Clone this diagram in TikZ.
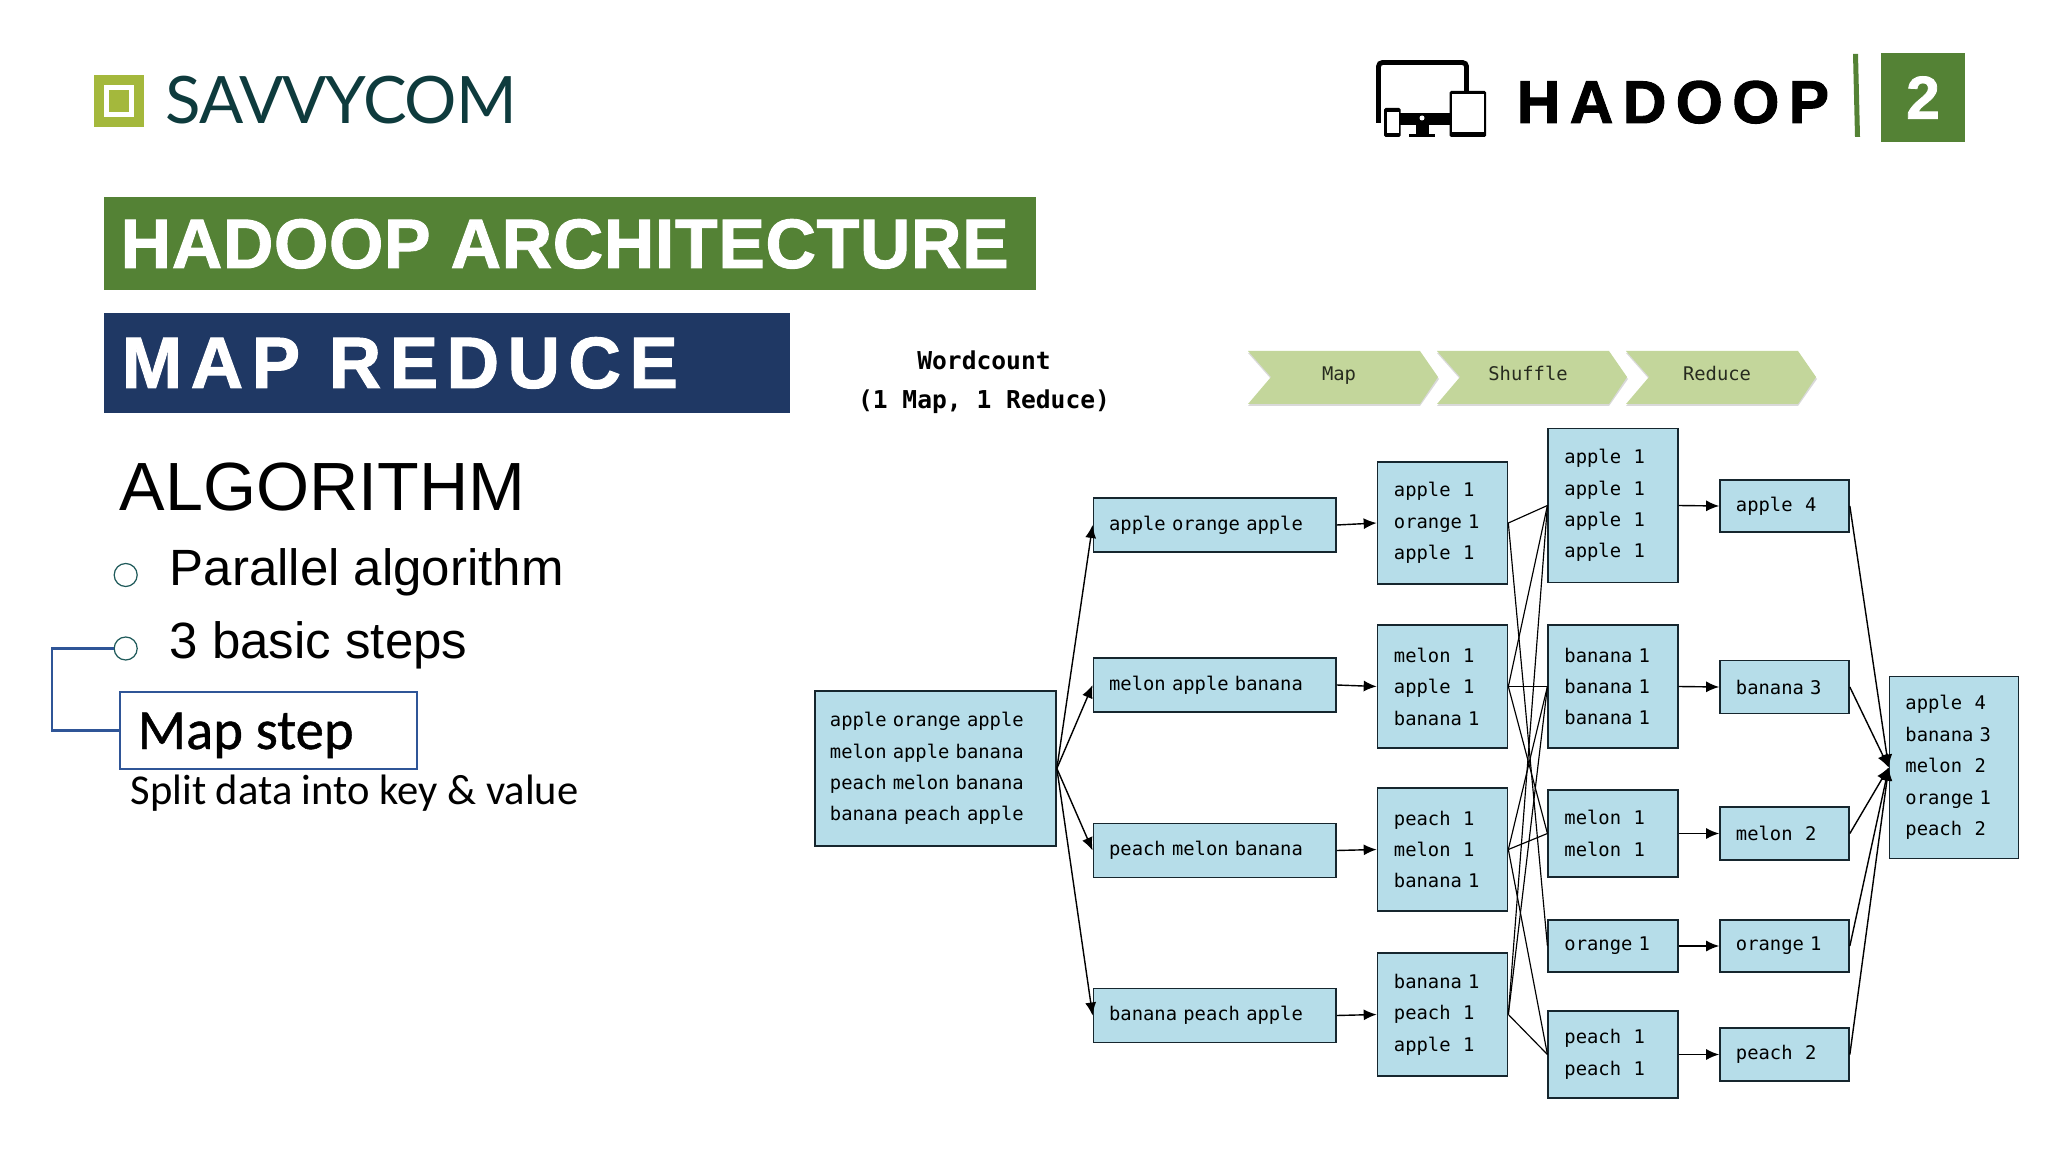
\documentclass[tikz,border=0pt]{standalone}
\usepackage{fontspec}
\usetikzlibrary{arrows.meta}
\setmainfont{Liberation Sans}
\newfontfamily\monofont{DejaVu Sans Mono}
\newfontfamily\monobold{DejaVu Sans Mono Bold}
\newfontfamily\calibrifont{Carlito}
\newfontfamily\logofont[LetterSpace=-1.5]{Lato}
\newfontfamily\heavyfont[FakeBold=1.6,LetterSpace=15.5]{Liberation Sans Bold}
\newfontfamily\titlefont[FakeBold=1.3,LetterSpace=0.8]{Liberation Sans Bold}
\newfontfamily\subtitlefont[FakeBold=1.3,LetterSpace=11.5]{Liberation Sans Bold}
\definecolor{hgreen}{HTML}{548235}
\definecolor{hnavy}{HTML}{1F3864}
\definecolor{logogreen}{HTML}{A4B83C}
\definecolor{logodark}{HTML}{0E3B3D}
\definecolor{boxblue}{HTML}{B6DDE9}
\definecolor{boxline}{HTML}{16262E}
\definecolor{stepgreen}{HTML}{C3D69B}
\definecolor{linkblue}{HTML}{2F5597}
\definecolor{bullet}{HTML}{1F5A5A}
\tikzset{
    box/.style={draw=boxline, fill=boxblue, line width=0.45pt, inner sep=0pt, align=left, text width=0.97cm, font=\monofont\fontsize{5.35}{8.95}\selectfont},
    wide/.style={box, text width=2.11cm},
    arrow/.style={-{Latex[length=1.3mm,width=1.1mm]}, line width=0.4pt, draw=black},
    link/.style={line width=0.33pt, draw=black},
    label/.style={inner sep=0pt, anchor=base west}
}
\begin{document}
\begin{tikzpicture}[x=0.01cm,y=-0.01cm]
    \useasboundingbox (0,0) rectangle (2048,1152);

    % logo
    \fill [logogreen] (94,75) rectangle (144,127);
    \fill [white] (104,85) rectangle (134,117);
    \fill [logogreen] (109,90) rectangle (129,112);
    \node [label, text=logodark, font=\logofont\fontsize{18.6}{20}\selectfont, name=logo] at (165,124) {SAVVYCOM};

    % hadoop 2
    \draw [line width=1.4pt, rounded corners=0.04cm] (1378.5,123) -- (1378.5,62.5) -- (1466.5,62.5) -- (1466.5,95);
    \fill [black] (1400,113) rectangle (1450,125);
    \fill [black] (1416,125) rectangle (1429,134);
    \fill [black] (1409,134) rectangle (1435,137);
    \fill [white] (1422,118) circle [radius=2.5];
    \fill [black, rounded corners=0.015cm] (1384,108) rectangle (1400.6,137);
    \fill [white] (1386.5,112) rectangle (1398.5,133);
    \fill [black, rounded corners=0.015cm] (1449.5,91) rectangle (1486,137);
    \fill [white] (1452,94) rectangle (1483.5,132);
    \node [label, font=\heavyfont\fontsize{17.2}{19}\selectfont, name=hadoop] at (1516,123) {HADOOP};
    \fill [hgreen] (1853,54) -- (1858,54) -- (1860,137) -- (1855,137) -- cycle;
    \node [fill=hgreen, text=white, inner sep=0pt, minimum width=0.84cm, minimum height=0.89cm, font=\titlefont\fontsize{17.2}{19}\selectfont, name=version] at (1923,97.5) {2};

    % headings
    \node [fill=hgreen, inner sep=0pt, minimum width=9.32cm, minimum height=0.93cm, name=bar1] at (570,243.5) {};
    \node [label, text=white, font=\titlefont\fontsize{19.9}{21}\selectfont, name=title] at (120,268) {HADOOP ARCHITECTURE};
    \node [fill=hnavy, inner sep=0pt, minimum width=6.86cm, minimum height=0.995cm, name=bar2] at (447,363) {};
    \node [label, text=white, font=\subtitlefont\fontsize{20.7}{22}\selectfont, name=subtitle] at (121,388) {MAP REDUCE};

    % algorithm
    \node [label, font=\fontsize{19.4}{21}\selectfont, name=algo] at (119,511) {ALGORITHM};
    \node [draw=bullet, circle, line width=0.35pt, minimum size=0.23cm, inner sep=0pt, name=dot1] at (125.7,575) {};
    \node [label, font=\fontsize{14.5}{16}\selectfont, name=par] at (169,585) {Parallel algorithm};
    \node [draw=bullet, circle, line width=0.35pt, minimum size=0.23cm, inner sep=0pt, name=dot2] at (125.7,648.5) {};
    \node [label, font=\fontsize{14.5}{16}\selectfont, name=basic] at (169,658) {3 basic steps};
    \node [draw=linkblue, fill=white, line width=0.35pt, inner sep=0pt, minimum width=2.97cm, minimum height=0.77cm, name=mapstep] at (268.5,730.5) {};
    \node [label, font=\calibrifont\fontsize{16.1}{18}\selectfont, name=mapword] at (137,749) {\addfontfeature{FakeBold=0.8}Map step};
    \node [label, font=\calibrifont\fontsize{12.1}{14}\selectfont, name=split] at (130,804) {Split data into key \& value};
    \draw [linkblue, line width=0.6pt] (dot2.west) -- (52,648.5) |- (mapstep.west);

    % wordcount
    \node [inner sep=0pt, align=center, font=\monobold\fontsize{7}{11.2}\selectfont, name=wc] at (984,382) {Wordcount\\(1 Map, 1 Reduce)};
    \foreach \x/\t/\n in {1248/Map/p1,1437/Shuffle/p2,1626/Reduce/p3} {
        \fill [gray!30] (\x,353) -- (\x+172,353) -- (\x+191,379) -- (\x+172,406) -- (\x,406) -- (\x+23,379) -- cycle;
        \fill [stepgreen] (\x,351) -- (\x+172,351) -- (\x+190,377) -- (\x+172,404) -- (\x,404) -- (\x+23,377) -- cycle;
        \node [inner sep=0pt, anchor=base, text=black!80!stepgreen, font=\monofont\fontsize{5.35}{9}\selectfont, name=\n] at (\x+91,381) {\t};
    }

    % input and map
    \node [wide, minimum width=2.41cm, minimum height=1.55cm, name=in] at (935.5,768.5) {apple orange apple\\melon apple banana\\peach melon banana\\banana peach apple};
    \node [wide, minimum width=2.425cm, minimum height=0.54cm, name=m1] at (1214.7,525) {apple orange apple};
    \node [wide, minimum width=2.425cm, minimum height=0.54cm, name=m2] at (1214.7,685) {melon apple banana};
    \node [wide, minimum width=2.425cm, minimum height=0.54cm, name=m3] at (1214.7,850.5) {peach melon banana};
    \node [wide, minimum width=2.425cm, minimum height=0.54cm, name=m4] at (1214.7,1015.5) {banana peach apple};
    \node [box, minimum width=1.3cm, minimum height=1.225cm, name=k1] at (1442.5,523) {apple~~1\\orange~1\\apple~~1};
    \node [box, minimum width=1.3cm, minimum height=1.225cm, name=k2] at (1442.5,686.5) {melon~~1\\apple~~1\\banana~1};
    \node [box, minimum width=1.3cm, minimum height=1.225cm, name=k3] at (1442.5,849.5) {peach~~1\\melon~~1\\banana~1};
    \node [box, minimum width=1.3cm, minimum height=1.225cm, name=k4] at (1442.5,1014.5) {banana~1\\peach~~1\\apple~~1};

    % shuffle
    \node [box, minimum width=1.295cm, minimum height=1.54cm, name=s1] at (1613,505.5) {apple~~1\\apple~~1\\apple~~1\\apple~~1};
    \node [box, minimum width=1.295cm, minimum height=1.225cm, name=s2] at (1613,686.5) {banana~1\\banana~1\\banana~1};
    \node [box, minimum width=1.295cm, minimum height=0.87cm, name=s3] at (1613,833.5) {melon~~1\\melon~~1};
    \node [box, minimum width=1.295cm, minimum height=0.525cm, name=s4] at (1613,946) {orange~1};
    \node [box, minimum width=1.295cm, minimum height=0.87cm, name=s5] at (1613,1054.5) {peach~~1\\peach~~1};

    % reduce
    \node [box, minimum width=1.29cm, minimum height=0.525cm, name=r1] at (1784.5,506) {apple~~4};
    \node [box, minimum width=1.29cm, minimum height=0.53cm, name=r2] at (1784.5,687) {banana~3};
    \node [box, minimum width=1.29cm, minimum height=0.53cm, name=r3] at (1784.5,833.5) {melon~~2};
    \node [box, minimum width=1.29cm, minimum height=0.525cm, name=r4] at (1784.5,946) {orange~1};
    \node [box, minimum width=1.29cm, minimum height=0.535cm, name=r5] at (1784.5,1054.5) {peach~~2};
    \node [box, minimum width=1.29cm, minimum height=1.82cm, name=out] at (1954,767.5) {apple~~4\\banana~3\\melon~~2\\orange~1\\peach~~2};

    \draw [arrow] (in.east) -- (m1.west);
    \draw [arrow] (in.east) -- (m2.west);
    \draw [arrow] (in.east) -- (m3.west);
    \draw [arrow] (in.east) -- (m4.west);
    \draw [arrow] (m1.east) -- (k1.west);
    \draw [arrow] (m2.east) -- (k2.west);
    \draw [arrow] (m3.east) -- (k3.west);
    \draw [arrow] (m4.east) -- (k4.west);

    \draw [link] (k1.east) -- (s1.west);
    \draw [link] (k1.east) -- (s4.west);
    \draw [link] (k2.east) -- (s1.west);
    \draw [link] (k2.east) -- (s2.west);
    \draw [link] (k2.east) -- (s3.west);
    \draw [link] (k3.east) -- (s2.west);
    \draw [link] (k3.east) -- (s3.west);
    \draw [link] (k3.east) -- (s5.west);
    \draw [link] (k4.east) -- (s1.west);
    \draw [link] (k4.east) -- (s2.west);
    \draw [link] (k4.east) -- (s5.west);

    \draw [arrow] (s1.east) -- (r1.west);
    \draw [arrow] (s2.east) -- (r2.west);
    \draw [arrow] (s3.east) -- (r3.west);
    \draw [arrow] (s4.east) -- (r4.west);
    \draw [arrow] (s5.east) -- (r5.west);

    \draw [arrow] (r1.east) -- (out.west);
    \draw [arrow] (r2.east) -- (out.west);
    \draw [arrow] (r3.east) -- (out.west);
    \draw [arrow] (r4.east) -- (out.west);
    \draw [arrow] (r5.east) -- (out.west);
\end{tikzpicture}
\end{document}
